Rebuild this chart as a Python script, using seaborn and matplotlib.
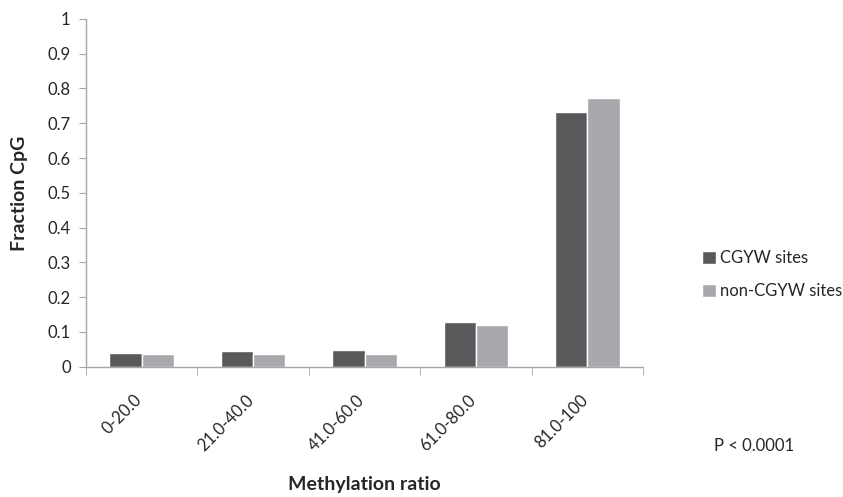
import matplotlib
matplotlib.use("Agg")
import matplotlib.pyplot as plt
import matplotlib.transforms as mtransforms
import seaborn as sns
import pandas as pd

# values
categories = ["0-20.0", "21.0-40.0", "41.0-60.0", "61.0-80.0", "81.0-100"]
cgyw = [0.040, 0.045, 0.048, 0.129, 0.733]
non_cgyw = [0.036, 0.036, 0.036, 0.120, 0.774]
series = ["CGYW sites", "non-CGYW sites"]

df = pd.DataFrame({
    "ratio": categories * 2,
    "frac": cgyw + non_cgyw,
    "site": [series[0]] * 5 + [series[1]] * 5,
})

sns.set_style("white")
plt.rcParams["font.family"] = ["Lato", "DejaVu Sans"]

fig = plt.figure(figsize=(8.43, 4.97), dpi=100)
ax = fig.add_axes([0.102, 0.262, 0.661, 0.700])

sns.barplot(data=df, x="ratio", y="frac", hue="site", order=categories,
            hue_order=series, palette=["#58595B", "#A7A9AC"],
            width=0.58, saturation=1, ax=ax, legend=True)

ax.set_ylim(0, 1)
ax.set_xlim(-0.5, 4.5)
ax.set_yticks([i / 10 for i in range(11)])
ax.set_yticklabels(["0"] + ["%.1f" % (i / 10) for i in range(1, 10)] + ["1"])
ax.tick_params(axis="y", direction="out", length=5, color="#A6A6A6",
               labelsize=12, labelcolor="#262626", left=True, pad=6)

ax.set_xticks(range(5))
ax.set_xticklabels(categories, rotation=45, ha="right", rotation_mode="anchor")
ax.tick_params(axis="x", which="major", length=0, labelsize=12,
               labelcolor="#262626", pad=18)
shift = mtransforms.ScaledTranslation(-8 / 100, 0, fig.dpi_scale_trans)
for lab in ax.get_xticklabels():
    lab.set_transform(lab.get_transform() + shift)
ax.set_xticks([i - 0.5 for i in range(6)], minor=True)
ax.tick_params(axis="x", which="minor", direction="out", length=6,
               color="#A6A6A6", bottom=True)

for s in ["top", "right"]:
    ax.spines[s].set_visible(False)
for s in ["left", "bottom"]:
    ax.spines[s].set_color("#A6A6A6")
    ax.spines[s].set_linewidth(1.0)

ax.set_xlabel("Methylation ratio", fontsize=14, fontweight="bold",
              color="#262626", labelpad=16)
ax.set_ylabel("Fraction CpG", fontsize=14, fontweight="bold",
              color="#262626", labelpad=14)

handles, labels = ax.get_legend_handles_labels()
ax.legend(handles, labels, loc="center left", bbox_to_anchor=(1.085, 0.265),
          frameon=False, fontsize=12, handlelength=0.8, handleheight=0.8,
          handletextpad=0.25, labelspacing=1.0, labelcolor="#262626",
          borderpad=0.2)

fig.text(0.847, 0.102, "P < 0.0001", fontsize=12, color="#262626",
         va="center")

fig.savefig("out.png", dpi=100)
